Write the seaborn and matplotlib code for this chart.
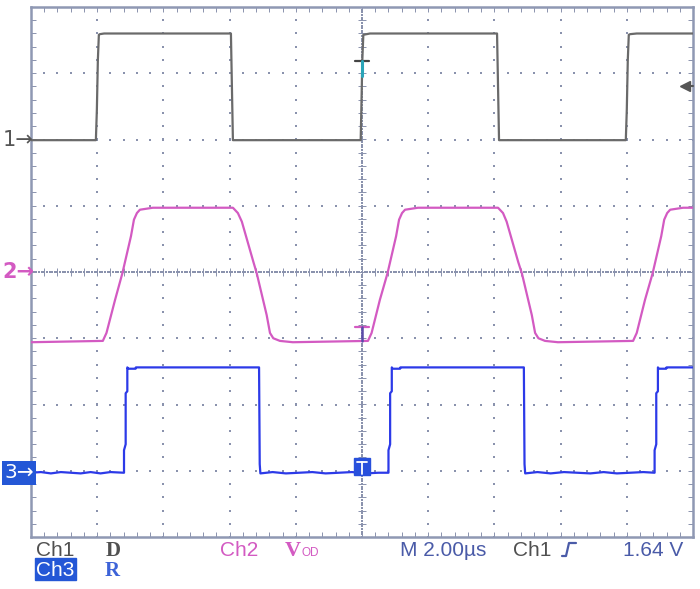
import matplotlib.pyplot as plt
import seaborn as sns
import numpy as np
import pandas as pd
from matplotlib.patches import Rectangle
from matplotlib.lines import Line2D

# time in µs (2 µs/div, trigger at 0), level in screen divisions
ch1_t = [-10.0, -8.04, -8.01, -7.98, -7.95, -7.92, -7.79, -3.96, -3.90,
         -0.04, -0.02, 0.01, 0.04, 0.24, 4.08, 4.14,
         7.97, 8.00, 8.03, 8.06, 8.10, 8.30, 10.0]
ch1_v = [1.99, 1.99, 2.45, 3.20, 3.58, 3.59, 3.60, 3.60, 1.99,
         1.99, 2.45, 3.20, 3.58, 3.60, 3.60, 1.99,
         1.99, 2.45, 3.20, 3.58, 3.59, 3.60, 3.60]

ch2_t = [-10.0,
         -7.83, -7.72, -7.46, -7.24, -6.98, -6.89, -6.80, -6.71, -6.32,
         -3.90, -3.75, -3.63, -3.28, -3.18, -2.88, -2.78, -2.68, -2.48, -2.09,
         0.18, 0.29, 0.54, 0.77, 1.03, 1.12, 1.21, 1.30, 1.69,
         4.11, 4.26, 4.37, 4.72, 4.83, 5.13, 5.23, 5.33, 5.53, 5.92,
         8.19, 8.30, 8.55, 8.78, 9.04, 9.13, 9.22, 9.31, 9.70,
         10.0]
ch2_v = [-1.06,
         -1.04, -0.92, -0.42, -0.02, 0.54, 0.79, 0.89, 0.94, 0.97,
         0.97, 0.89, 0.76, 0.15, -0.02, -0.65, -0.92, -1.00, -1.04, -1.06,
         -1.04, -0.92, -0.42, -0.02, 0.54, 0.79, 0.89, 0.94, 0.97,
         0.97, 0.89, 0.76, 0.15, -0.02, -0.65, -0.92, -1.00, -1.04, -1.06,
         -1.04, -0.92, -0.42, -0.02, 0.54, 0.79, 0.89, 0.94, 0.97,
         0.97]

ch3_t = [-10.0, -9.7, -9.4, -9.1, -8.8, -8.5, -8.2, -7.9, -7.6,
         -7.19, -7.19, -7.14, -7.14, -7.09, -7.09, -7.06, -6.84, -6.83,
         -3.11, -3.09, -3.07, -2.7, -2.3, -1.9, -1.5, -1.1, -0.7, -0.3, 0.1, 0.5,
         0.80, 0.80, 0.85, 0.85, 0.90, 0.90, 0.93, 1.15, 1.16,
         4.89, 4.91, 4.93, 5.3, 5.7, 6.1, 6.5, 6.9, 7.3, 7.7, 8.1, 8.5,
         8.84, 8.84, 8.89, 8.89, 8.94, 8.94, 8.97, 9.19, 9.20, 10.0]
ch3_v = [-3.03, -3.02, -3.04, -3.02, -3.03, -3.04, -3.02, -3.04, -3.02,
         -3.03, -2.69, -2.60, -1.83, -1.80, -1.44, -1.46, -1.46, -1.44,
         -1.44, -2.90, -3.04, -3.02, -3.04, -3.03, -3.02, -3.04, -3.03, -3.02, -3.04, -3.03,
         -3.03, -2.69, -2.60, -1.83, -1.80, -1.44, -1.46, -1.46, -1.44,
         -1.44, -2.90, -3.04, -3.02, -3.04, -3.02, -3.03, -3.04, -3.02, -3.04, -3.03, -3.02,
         -3.03, -2.69, -2.60, -1.83, -1.80, -1.44, -1.46, -1.46, -1.44, -1.44]

# channel ground markers and trigger level (divisions)
ch1_ref, ch2_ref, ch3_ref = 1.99, 0.0, -3.03
trig_level = 2.81

gray = "#6a6a6a"
magenta = "#d35ac2"
blue = "#2c3ae8"
grid_c = "#8a92ad"
txt_blue = "#4a5ba8"

sns.set_style("white")
plt.rcParams['font.family'] = ['Liberation Sans', 'DejaVu Sans']

fig = plt.figure(figsize=(7, 5.89), dpi=100)
ax = fig.add_axes([31/700, 52/589, 662/700, 530/589])
ax.set_xlim(-10, 10)
ax.set_ylim(-4, 4)

# graticule
for gx in [-8, -6, -4, -2, 2, 4, 6, 8]:
    ys = np.arange(-4, 4.01, 0.2)
    ax.scatter(np.full_like(ys, gx), ys, s=1.8, marker='s', color=grid_c, lw=0, zorder=1)
for gy in [-3, -2, -1, 1, 2, 3]:
    xs = np.arange(-10, 10.01, 0.4)
    ax.scatter(xs, np.full_like(xs, gy), s=1.8, marker='s', color=grid_c, lw=0, zorder=1)
xs = np.arange(-10, 10.01, 0.08)
ax.scatter(xs, np.zeros_like(xs), s=1.0, marker='s', color=grid_c, lw=0, zorder=1)
ys = np.arange(-4, 4.01, 0.04)
ax.scatter(np.zeros_like(ys), ys, s=1.0, marker='s', color=grid_c, lw=0, zorder=1)
minor_x = np.arange(-10, 10.01, 0.4)
minor_y = np.arange(-4, 4.01, 0.2)
ax.vlines(minor_x, -0.06, 0.06, color=grid_c, lw=0.7, zorder=1)
ax.hlines(minor_y, -0.12, 0.12, color=grid_c, lw=0.7, zorder=1)
ax.vlines(minor_x, 3.93, 4.0, color=grid_c, lw=0.7, zorder=1)
ax.vlines(minor_x, -4.0, -3.93, color=grid_c, lw=0.7, zorder=1)
ax.hlines(minor_y, -10, -9.86, color=grid_c, lw=0.7, zorder=1)
ax.hlines(minor_y, 9.86, 10, color=grid_c, lw=0.7, zorder=1)

# traces
for t, v, c in [(ch1_t, ch1_v, gray), (ch2_t, ch2_v, magenta), (ch3_t, ch3_v, blue)]:
    df = pd.DataFrame({'t': t, 'v': v})
    sns.lineplot(data=df, x='t', y='v', sort=False, estimator=None,
                 color=c, linewidth=1.6, ax=ax, zorder=3)

# trigger markers
ax.plot([-0.2, 0.2], [3.19, 3.19], color="#444444", lw=1.6, zorder=4)
ax.plot([0, 0], [3.19, 2.96], color="#2aa5b8", lw=2.2, zorder=4)
ax.plot([-0.2, 0.2], [-0.83, -0.83], color=magenta, lw=1.6, zorder=4)
ax.plot([0, 0], [-0.83, -1.04], color="#5a4aa8", lw=1.8, zorder=4)
ax.add_patch(Rectangle((-0.24, -3.07), 0.48, 0.27, color="#2850dc", zorder=5))
ax.plot([-0.14, 0.14], [-2.87, -2.87], color="white", lw=1.3, zorder=6)
ax.plot([0, 0], [-2.87, -3.05], color="white", lw=1.3, zorder=6)
ax.plot([9.76, 10.0], [trig_level, trig_level], color="#555555", lw=1.5, zorder=4, clip_on=False)
ax.plot([9.76], [trig_level], marker='<', ms=7, color="#555555", zorder=4, clip_on=False)

ax.set_xlabel("")
ax.set_ylabel("")
ax.set_xticks([])
ax.set_yticks([])
for s in ax.spines.values():
    s.set_color("#8f98b3")
    s.set_linewidth(1.8)


def px(x, y):
    return x / 700, 1 - y / 589


# channel ground markers on the left
def ref_y(v):
    return 272 - v * 66.25

fig.text(*px(3, ref_y(ch1_ref)), "1→", color="#555555", fontsize=15, va='center',
         family=['DejaVu Sans'])
fig.text(*px(2, ref_y(ch2_ref)), "2→", color=magenta, fontsize=15, va='center',
         family=['DejaVu Sans'], fontweight='bold')
fig.text(*px(4, ref_y(ch3_ref)), "3→", color="white", fontsize=14.5, va='center',
         family=['DejaVu Sans'],
         bbox=dict(boxstyle='square,pad=0.12', fc="#2457d6", ec='none'))

# status line
fs = 15
fig.text(*px(36, 556), "Ch1", color="#505050", fontsize=fs, va='baseline')
fig.text(*px(106, 556), "D", color="#505050", fontsize=fs, va='baseline',
         family=['Liberation Serif'], fontweight='bold')
fig.text(*px(220, 556), "Ch2", color=magenta, fontsize=fs, va='baseline')
fig.text(*px(285, 556), "V", color=magenta, fontsize=16, va='baseline',
         family=['Liberation Serif'], fontweight='bold')
fig.text(*px(301, 556), "OD", color=magenta, fontsize=8.5, va='baseline')
fig.text(*px(400, 556), "M 2.00µs", color=txt_blue, fontsize=fs, va='baseline')
fig.text(*px(513, 556), "Ch1", color="#505050", fontsize=fs, va='baseline')
trig_sym = [px(562, 556), px(566, 556), px(569, 543), px(576, 543)]
fig.add_artist(Line2D([p[0] for p in trig_sym], [p[1] for p in trig_sym],
                      transform=fig.transFigure, color=txt_blue, lw=1.6))
fig.text(*px(623, 556), "1.64 V", color=txt_blue, fontsize=fs, va='baseline')

fig.add_artist(Rectangle(px(35, 580), 41 / 700, 22 / 589, transform=fig.transFigure,
                         color="#2457d6"))
fig.text(*px(36, 576), "Ch3", color="white", fontsize=fs, va='baseline')
fig.text(*px(105, 576), "R", color="#3d63d8", fontsize=fs, va='baseline',
         family=['Liberation Serif'], fontweight='bold')

fig.savefig("out.png", dpi=100)
plt.close()
